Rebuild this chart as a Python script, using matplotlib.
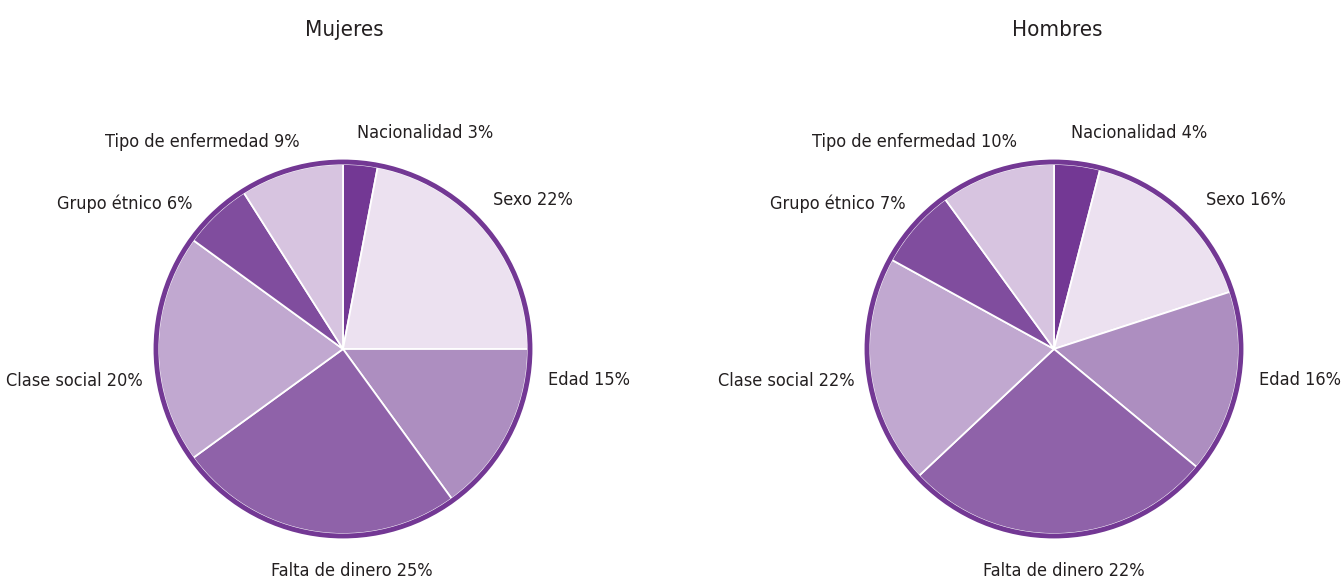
import matplotlib
matplotlib.use("Agg")
import matplotlib.pyplot as plt
from matplotlib.patches import Circle

# categories, clockwise from the top
categories = ["Nacionalidad", "Sexo", "Edad", "Falta de dinero",
              "Clase social", "Grupo étnico", "Tipo de enfermedad"]

# percentages printed in the labels
mujeres_pct = [3, 22, 15, 25, 20, 6, 9]
hombres_pct = [4, 16, 16, 22, 22, 7, 10]

# slice shares as drawn in the picture (hombres slices don't follow the labels)
mujeres_sizes = [3, 22, 15, 25, 20, 6, 9]
hombres_sizes = [4, 16, 16, 27, 20, 7, 10]

colors = ["#733894", "#ece1f0", "#ad8ec0", "#8f62a9", "#c1a8d0", "#804d9e", "#d7c4e0"]
ring = "#733894"

W, H = 1344, 583
fig = plt.figure(figsize=(W / 100, H / 100), dpi=100)
ax = fig.add_axes([0, 0, 1, 1])

txt = dict(fontsize=13, color="#231f20", family="DejaVu Sans",
           fontstretch="condensed", va="center")

# label anchor points (pixels from top-left) for each pie
mujeres_lab = [(425, 133), (533, 200), (589, 380), (352, 571),
               (74, 381), (125, 204), (202, 142)]
hombres_lab = [(1139, 133), (1246, 200), (1300, 380), (1064, 571),
               (786, 381), (838, 204), (915, 142)]


def draw(cx, cy, sizes, pct, labs, title, tx):
    ax.pie(sizes, colors=colors, startangle=90, counterclock=False,
           center=(cx, H - cy), radius=185,
           wedgeprops=dict(edgecolor="white", linewidth=1.3))
    ax.add_patch(Circle((cx, H - cy), 187, fill=False, edgecolor=ring, linewidth=3.5))
    for c, p, (x, y) in zip(categories, pct, labs):
        ax.text(x, H - y, f"{c} {p}%", ha="center", **txt)
    ax.text(tx, H - 30, title, ha="center", va="center", fontsize=16,
            color="#231f20", family="DejaVu Sans", fontstretch="condensed")


draw(343, 349, mujeres_sizes, mujeres_pct, mujeres_lab, "Mujeres", 344)
draw(1054, 349, hombres_sizes, hombres_pct, hombres_lab, "Hombres", 1057)

# pie() resets the limits, so set them again
ax.set_xlim(0, W)
ax.set_ylim(0, H)
ax.set_aspect("equal")
ax.axis("off")

fig.savefig("out.png", dpi=100)
